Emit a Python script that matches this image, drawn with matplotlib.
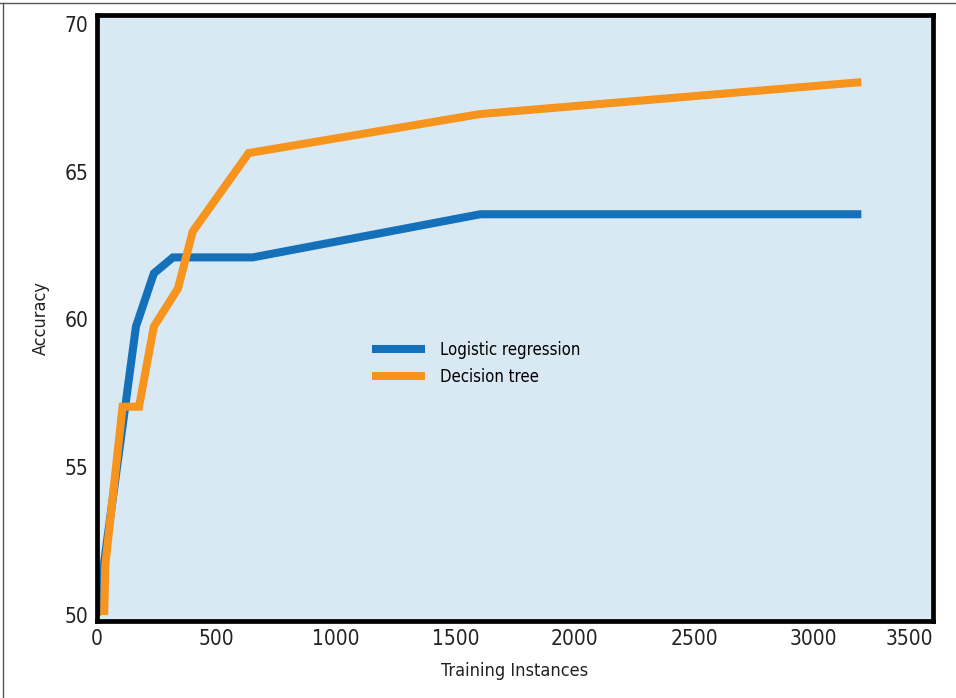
import matplotlib
matplotlib.use("Agg")
import matplotlib.pyplot as plt
from matplotlib.lines import Line2D

# values
logreg_x = [0, 121, 163, 238, 318, 652, 1605, 3200]
logreg_y = [50.0, 57.22, 59.76, 61.56, 62.1, 62.1, 63.56, 63.56]
tree_x = [30, 35, 107, 176, 238, 339, 401, 635, 1605, 3200]
tree_y = [50.0, 51.7, 57.05, 57.05, 59.76, 61.05, 62.98, 65.63, 66.95, 68.03]
xticks = [0, 500, 1000, 1500, 2000, 2500, 3000, 3500]
yticks = [50, 55, 60, 65, 70]

BLUE = "#1470b8"
ORANGE = "#f7941d"
BG = "#d9e9f4"

plt.rcParams["font.family"] = ["DejaVu Sans"]
plt.rcParams["font.stretch"] = "condensed"

fig = plt.figure(figsize=(9.56, 6.98), dpi=100)
ax = fig.add_axes([97 / 956, 1 - 621 / 698, (933 - 97) / 956, (621 - 15) / 698])
ax.set_facecolor(BG)

ax.plot(logreg_x, logreg_y, color=BLUE, lw=5.8, solid_joinstyle="miter",
        solid_capstyle="butt", label="Logistic regression")
ax.plot(tree_x, tree_y, color=ORANGE, lw=5.8, solid_joinstyle="miter",
        solid_capstyle="butt", label="Decision tree")

ax.set_xlim(0, 3500)
ax.set_ylim(49.8, 70.3)
ax.set_xticks(xticks)
ax.set_yticks(yticks)
ax.tick_params(length=0, labelsize=15, colors="#222222", pad=6)
ax.get_xticklabels()[-1].set_horizontalalignment("right")
for s in ax.spines.values():
    s.set_linewidth(3.4)
    s.set_color("black")

ax.set_xlabel("Training Instances", fontsize=13, color="#222222", labelpad=9)
ax.set_ylabel("Accuracy", fontsize=13, color="#222222", labelpad=11)

ax.legend(loc="upper left", bbox_to_anchor=(357 / 956, 1 - 326 / 698),
          bbox_transform=fig.transFigure, frameon=False, fontsize=12,
          handlelength=3.2, handletextpad=0.9, labelspacing=0.55)

# thin frame around the figure (top and left)
fig.add_artist(Line2D([0, 1], [1 - 3 / 698, 1 - 3 / 698], transform=fig.transFigure,
                      color="#555555", lw=1))
fig.add_artist(Line2D([3 / 956, 3 / 956], [0, 1 - 3 / 698], transform=fig.transFigure,
                      color="#555555", lw=1))

fig.savefig("out.png", dpi=100)
